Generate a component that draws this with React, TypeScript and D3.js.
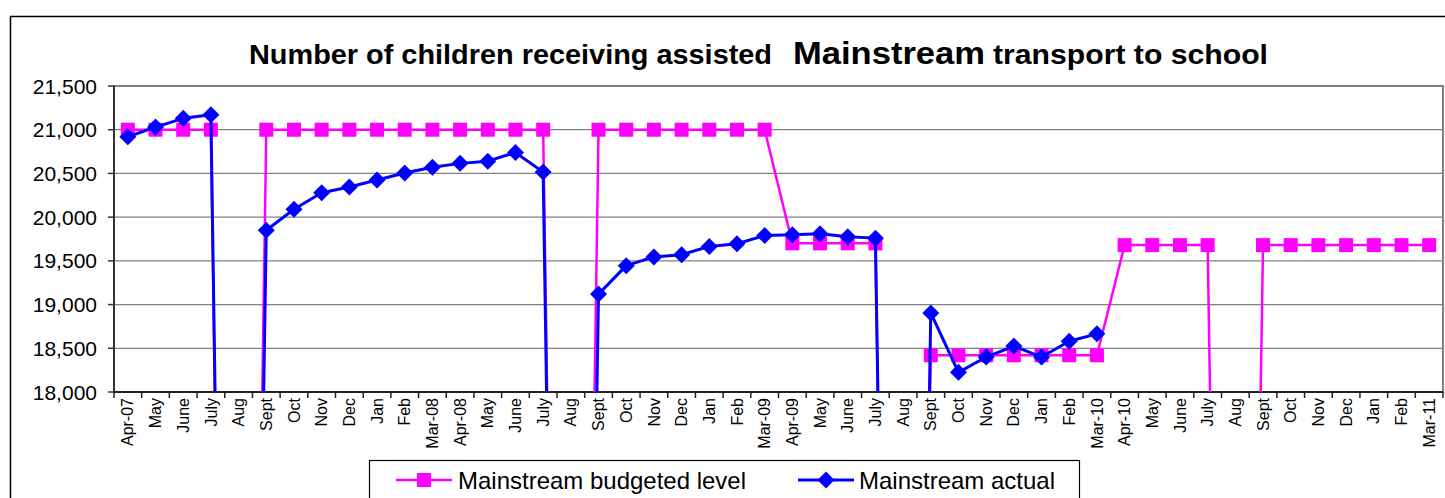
import React from "react";
import * as d3 from "d3";

const categories: string[] = [
  "Apr-07", "May", "June", "July", "Aug", "Sept", "Oct", "Nov", "Dec", "Jan", "Feb", "Mar-08",
  "Apr-08", "May", "June", "July", "Aug", "Sept", "Oct", "Nov", "Dec", "Jan", "Feb", "Mar-09",
  "Apr-09", "May", "June", "July", "Aug", "Sept", "Oct", "Nov", "Dec", "Jan", "Feb", "Mar-10",
  "Apr-10", "May", "June", "July", "Aug", "Sept", "Oct", "Nov", "Dec", "Jan", "Feb", "Mar-11",
];

const budgeted: (number | null)[] = [
  21000, 21000, 21000, 21000, 0, 21000, 21000, 21000, 21000, 21000, 21000, 21000,
  21000, 21000, 21000, 21000, 0, 21000, 21000, 21000, 21000, 21000, 21000, 21000,
  19700, 19700, 19700, 19700, 0, 18420, 18420, 18420, 18420, 18420, 18420, 18420,
  19680, 19680, 19680, 19680, 0, 19680, 19680, 19680, 19680, 19680, 19680, 19680,
];

const actual: (number | null)[] = [
  20920, 21030, 21130, 21170, 0, 19850, 20090, 20280, 20345, 20425, 20505, 20570,
  20615, 20640, 20740, 20515, 0, 19120, 19445, 19545, 19570, 19665, 19695, 19790,
  19800, 19810, 19775, 19760, 0, 18905, 18225, 18400, 18525, 18400, 18580, 18665,
  null, null, null, null, null, null, null, null, null, null, null, null,
];

const yTicks: number[] = [18000, 18500, 19000, 19500, 20000, 20500, 21000, 21500];

const titleParts = ["Number of children receiving assisted", "Mainstream", "transport to school"];
const seriesNames = ["Mainstream budgeted level", "Mainstream actual"];

const W = 1445;
const H = 498;
const PL = 114;
const PR = 1443;
const PT = 86;
const PB = 392;
const FONT = "'Liberation Sans', Arial, Helvetica, sans-serif";
const MAGENTA = "#FF00FF";
const BLUE = "#0000FF";

export default function App() {
  const idx = categories.map((_, i) => i);
  const x = d3.scaleBand<number>().domain(idx).range([PL, PR]).padding(0);
  const y = d3.scaleLinear().domain([18000, 21500]).range([PB, PT]);
  const cx = (i: number) => (x(i) as number) + x.bandwidth() / 2;

  const line = d3
    .line<number | null>()
    .defined((d) => d != null)
    .x((_, i) => cx(i))
    .y((d) => y(d as number));

  const fmt = d3.format(",");
  const sq = 14;
  const diamondPath = `M0,-8.5L8.5,0L0,8.5L-8.5,0Z`;

  return (
    <svg
      width={W}
      height={H}
      style={{ position: "absolute", left: 0, top: 0, background: "#fff" }}
      fontFamily={FONT}
    >
      <defs>
        <clipPath id="plotclip">
          <rect x={PL} y={PT - 10} width={PR - PL} height={PB - PT + 10} />
        </clipPath>
      </defs>
      <rect x={0} y={0} width={W} height={H} fill="#fff" />
      {/* chart border */}
      <rect x={10.5} y={16.5} width={W + 20} height={H + 20} fill="none" stroke="#000" strokeWidth={1.5} />

      {/* title */}
      <text x={249} y={64} fontSize={28} fontWeight="bold" textLength={523} lengthAdjust="spacingAndGlyphs">
        {titleParts[0]}
      </text>
      <text x={793} y={64} fontSize={32} fontWeight="bold" textLength={192} lengthAdjust="spacingAndGlyphs">
        {titleParts[1]}
      </text>
      <text x={993} y={64} fontSize={28} fontWeight="bold" textLength={275} lengthAdjust="spacingAndGlyphs">
        {titleParts[2]}
      </text>

      {/* gridlines */}
      {yTicks.map((t) => (
        <line key={"g" + t} x1={PL} x2={PR} y1={y(t)} y2={y(t)} stroke="#808080" strokeWidth={1.2} />
      ))}
      {/* plot border */}
      <rect x={PL} y={PT} width={PR - PL} height={PB - PT} fill="none" stroke="#808080" strokeWidth={2} />

      {/* y axis */}
      <line x1={PL} x2={PL} y1={PT} y2={PB} stroke="#333" strokeWidth={2} />
      {yTicks.map((t) => (
        <g key={"yt" + t}>
          <line x1={PL - 6} x2={PL} y1={y(t)} y2={y(t)} stroke="#333" strokeWidth={1.5} />
          <text x={97} y={y(t) + 7.5} fontSize={21} textAnchor="end" fill="#000">
            {fmt(t)}
          </text>
        </g>
      ))}

      {/* x axis */}
      <line x1={PL} x2={PR} y1={PB} y2={PB} stroke="#222" strokeWidth={2} />
      {idx.map((i) => (
        <line key={"xt" + i} x1={x(i) as number} x2={x(i) as number} y1={PB} y2={PB + 6} stroke="#222" strokeWidth={1.5} />
      ))}
      <line x1={PR} x2={PR} y1={PB} y2={PB + 6} stroke="#222" strokeWidth={1.5} />
      {categories.map((c, i) => (
        <text
          key={"xl" + i}
          transform={`translate(${cx(i)},${PB + 6}) rotate(-90)`}
          fontSize={16}
          textAnchor="end"
          dy="0.35em"
          fill="#000"
        >
          {c}
        </text>
      ))}

      {/* series */}
      <g clipPath="url(#plotclip)">
        <path d={line(budgeted) || ""} fill="none" stroke={MAGENTA} strokeWidth={2.5} strokeLinejoin="round" />
        {budgeted.map((v, i) =>
          v == null ? null : (
            <rect key={"b" + i} x={cx(i) - sq / 2} y={y(v) - sq / 2} width={sq} height={sq} fill={MAGENTA} />
          )
        )}
        <path d={line(actual) || ""} fill="none" stroke={BLUE} strokeWidth={3} strokeLinejoin="round" />
        {actual.map((v, i) =>
          v == null ? null : (
            <path key={"a" + i} d={diamondPath} transform={`translate(${cx(i)},${y(v)})`} fill={BLUE} />
          )
        )}
      </g>

      {/* legend */}
      <rect x={369.5} y={460.5} width={710} height={60} fill="#fff" stroke="#000" strokeWidth={1.2} />
      <line x1={396} x2={452} y1={480} y2={480} stroke={MAGENTA} strokeWidth={2.5} />
      <rect x={424 - 7} y={480 - 7} width={14} height={14} fill={MAGENTA} />
      <text x={458} y={489} fontSize={24} textLength={288} lengthAdjust="spacingAndGlyphs">
        {seriesNames[0]}
      </text>
      <line x1={798} x2={854} y1={480} y2={480} stroke={BLUE} strokeWidth={3} />
      <path d={diamondPath} transform="translate(826,480)" fill={BLUE} />
      <text x={859} y={489} fontSize={24} textLength={196} lengthAdjust="spacingAndGlyphs">
        {seriesNames[1]}
      </text>
    </svg>
  );
}
